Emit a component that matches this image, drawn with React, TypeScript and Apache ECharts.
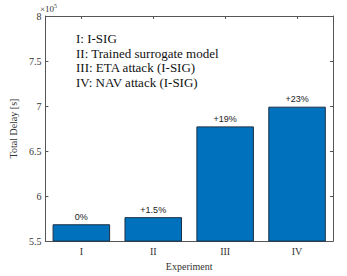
import React, { useEffect, useRef } from 'react';
import * as echarts from 'echarts';

const categories = ['I', 'II', 'III', 'IV'];
const totalDelay = [568700, 576600, 677400, 699300];
const barLabels = ['0%', '+1.5%', '+19%', '+23%'];
const legendLines = [
  'I: I-SIG',
  'II: Trained surrogate model',
  'III: ETA attack (I-SIG)',
  'IV: NAV attack (I-SIG)',
];
const yMin = 550000;
const yMax = 800000;
const yStep = 50000;

const SERIF = '"Liberation Serif", "DejaVu Serif", serif';
const SANS = '"Liberation Sans", Arial, sans-serif';
const AXIS_COLOR = '#555';

export default function App() {
  const ref = useRef<HTMLDivElement>(null);
  useEffect(() => {
    if (!ref.current) return;
    const chart = echarts.init(ref.current, undefined, { renderer: 'svg' });
    const yCommon = {
      type: 'value' as const,
      min: yMin,
      max: yMax,
      interval: yStep,
      splitLine: { show: false },
      axisLine: { show: true, lineStyle: { color: AXIS_COLOR, width: 1 } },
      axisTick: { show: true, inside: true, length: 3, lineStyle: { color: AXIS_COLOR } },
    };
    const xCommon = {
      type: 'category' as const,
      data: categories,
      axisLine: { show: true, onZero: false, lineStyle: { color: AXIS_COLOR, width: 1 } },
      axisTick: { show: true, inside: true, length: 3, alignWithLabel: true, lineStyle: { color: AXIS_COLOR } },
      splitLine: { show: false },
    };
    chart.setOption({
      animation: false,
      grid: { left: 39, right: 14, top: 16, bottom: 29, containLabel: false },
      xAxis: [
        {
          ...xCommon,
          position: 'bottom',
          name: 'Experiment',
          nameLocation: 'middle',
          nameGap: 17,
          nameTextStyle: { fontFamily: SERIF, fontSize: 10, color: '#333' },
          axisLabel: { fontFamily: SERIF, fontSize: 10, color: '#333', margin: 5 },
        },
        {
          ...xCommon,
          position: 'top',
          axisLabel: { show: false },
        },
      ],
      yAxis: [
        {
          ...yCommon,
          position: 'left',
          name: 'Total Delay [s]',
          nameLocation: 'middle',
          nameGap: 19,
          nameTextStyle: { fontFamily: SERIF, fontSize: 10, color: '#333' },
          axisLabel: {
            fontFamily: SERIF,
            fontSize: 10,
            color: '#333',
            margin: 4,
            formatter: (v: number) => String(v / 100000),
          },
        },
        {
          ...yCommon,
          position: 'right',
          axisLabel: { show: false },
        },
      ],
      series: [
        {
          type: 'bar',
          xAxisIndex: 0,
          yAxisIndex: 0,
          data: totalDelay,
          barWidth: '80%',
          itemStyle: { color: '#0072BD', borderColor: '#1c2f45', borderWidth: 1 },
          label: {
            show: true,
            position: 'top',
            distance: 3,
            fontFamily: SANS,
            fontSize: 9,
            color: '#222',
            formatter: (p: any) => barLabels[p.dataIndex],
          },
        },
      ],
      graphic: [
        {
          type: 'text',
          left: 40,
          top: 3,
          style: {
            text: '×10{s|5}',
            fontFamily: SERIF,
            fontSize: 9,
            fill: '#333',
            rich: { s: { fontSize: 6, verticalAlign: 'top', padding: [0, 0, 6, 0], fontFamily: SERIF, fill: '#333' } },
          },
        },
        {
          type: 'text',
          left: 76,
          top: 31,
          style: {
            text: legendLines.join('\n'),
            fontFamily: SERIF,
            fontSize: 13,
            lineHeight: 14.7,
            fill: '#111',
          },
        },
      ],
    });
    return () => chart.dispose();
  }, []);
  return (
    <div
      ref={ref}
      style={{ position: 'fixed', left: 0, top: 0, width: 347, height: 276, background: '#fff' }}
    />
  );
}
